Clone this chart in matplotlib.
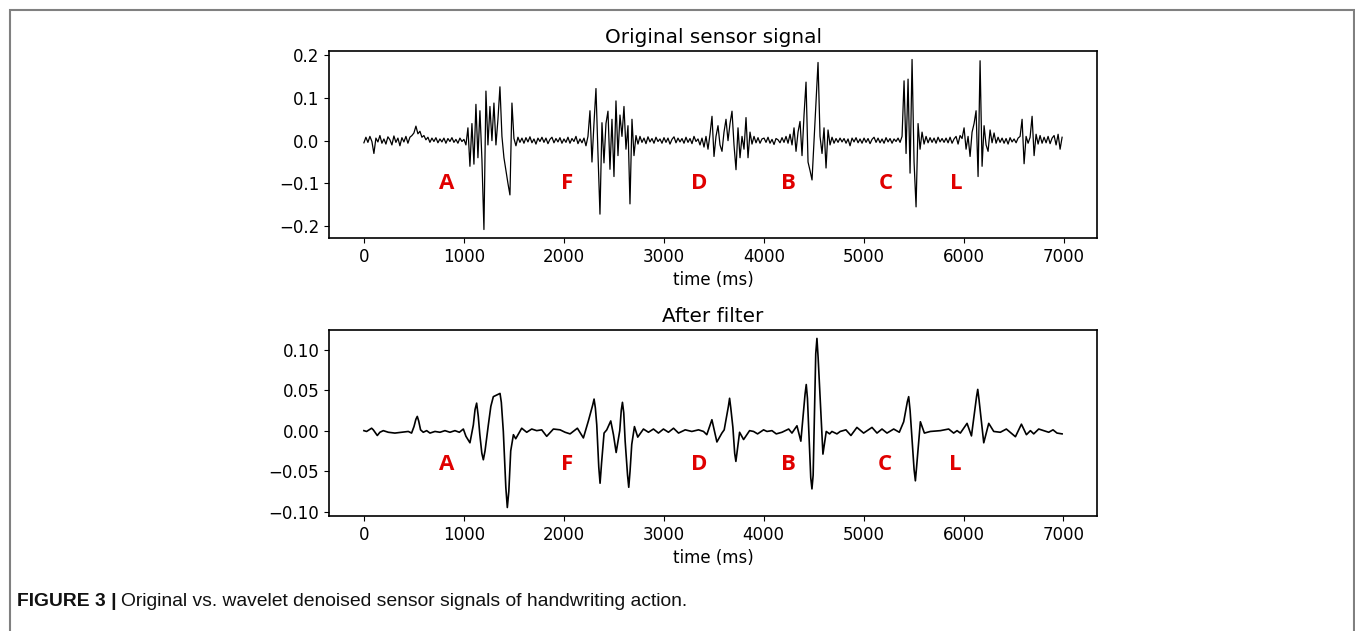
import numpy as np
import matplotlib
matplotlib.use("Agg")
import matplotlib.pyplot as plt
from matplotlib.patches import Rectangle

# raw sensor samples, one every 20 ms starting at 0 ms
raw_step = 20
raw_vals = [
    -0.005, 0.008, -0.004, 0.010, -0.002, -0.030, 0.006, -0.003, 0.012, -0.006,
    0.004, -0.008, 0.009, 0.002, -0.010, 0.011, -0.004, 0.006, -0.012, 0.007,
    -0.003, 0.010, -0.006, 0.008, 0.012, 0.018, 0.034, 0.016, 0.022, 0.008,
    0.012, 0.002, 0.008, -0.004, 0.006, -0.002, 0.007, -0.005, 0.004, -0.003,
    0.006, -0.006, 0.005, -0.002, 0.007, -0.004, 0.003, -0.006, 0.006, -0.002,
    0.003, -0.010, 0.030, -0.060, 0.040, -0.055, 0.085, -0.040, 0.070, -0.045,
    -0.208, 0.116, -0.010, 0.080, 0.000, 0.088, -0.010, 0.050, 0.126, 0.010,
    -0.040, -0.070, -0.100, -0.127, 0.088, 0.005, -0.012, 0.008, -0.004, 0.006,
    -0.006, 0.007, -0.003, 0.009, -0.005, 0.004, -0.008, 0.006, -0.002, 0.008,
    -0.004, 0.006, -0.007, 0.003, 0.008, -0.005, 0.005, -0.003, 0.007, -0.006,
    0.004, -0.004, 0.008, -0.006, 0.005, -0.002, 0.010, -0.007, 0.004, -0.005,
    0.006, -0.012, 0.010, 0.070, -0.050, 0.040, 0.122, -0.030, -0.172, 0.042,
    -0.052, 0.040, 0.069, -0.067, 0.050, -0.084, 0.093, -0.035, 0.060, 0.010,
    0.080, -0.020, 0.035, -0.148, 0.050, -0.035, 0.012, -0.008, 0.010, -0.004,
    0.006, -0.007, 0.009, -0.003, 0.005, -0.006, 0.008, -0.002, 0.004, -0.006,
    0.007, -0.004, 0.006, -0.008, 0.003, 0.009, -0.005, 0.006, -0.003, 0.005,
    -0.006, 0.008, -0.004, 0.005, -0.007, 0.010, -0.002, 0.004, -0.010, 0.006,
    -0.015, 0.010, -0.020, 0.015, 0.057, -0.037, 0.010, 0.035, -0.010, -0.025,
    0.020, 0.050, 0.000, 0.040, 0.069, -0.010, -0.068, 0.030, -0.040, 0.010,
    -0.020, 0.054, -0.040, 0.020, -0.008, 0.010, -0.005, 0.007, -0.006, 0.004,
    0.006, -0.004, 0.008, -0.006, 0.003, -0.009, 0.005, 0.002, -0.005, 0.007,
    -0.004, 0.010, -0.006, 0.015, -0.010, 0.030, -0.025, 0.020, 0.045, -0.035,
    0.060, 0.137, -0.050, -0.070, -0.092, 0.000, 0.090, 0.183, 0.010, -0.030,
    0.030, -0.064, 0.025, -0.010, 0.008, -0.006, 0.005, -0.004, 0.006, -0.003,
    0.005, -0.006, 0.004, -0.012, 0.006, -0.003, 0.007, -0.005, 0.004, -0.006,
    0.006, -0.004, 0.005, -0.007, 0.003, 0.008, -0.004, 0.006, -0.005, 0.004,
    -0.006, 0.007, -0.003, 0.005, -0.006, 0.004, -0.002, 0.006, -0.004, 0.010,
    0.140, -0.030, 0.144, -0.076, 0.190, -0.050, -0.155, 0.040, -0.020, 0.020,
    -0.008, 0.010, -0.005, 0.007, -0.004, 0.006, -0.006, 0.008, -0.003, 0.005,
    -0.004, 0.006, -0.005, 0.008, -0.006, 0.004, 0.010, -0.008, 0.012, 0.005,
    0.030, -0.020, 0.010, -0.037, 0.020, 0.040, 0.070, -0.084, 0.187, -0.060,
    0.035, -0.010, -0.025, 0.025, -0.005, 0.018, -0.006, 0.008, -0.004, 0.006,
    -0.006, 0.005, -0.008, 0.007, -0.003, 0.004, -0.005, 0.006, 0.010, 0.050,
    -0.054, 0.010, -0.006, 0.008, 0.057, -0.035, 0.015, -0.008, 0.012, -0.006,
    0.008, -0.005, 0.010, -0.007, 0.006, 0.012, -0.010, 0.015, -0.020, 0.008,
]
raw_t = np.arange(len(raw_vals)) * raw_step

# wavelet denoised signal
filt_t = [0, 27, 77, 94, 134, 160, 194, 244, 310, 377, 444, 477, 501, 520, 534,
          548, 567, 594, 628, 661, 711, 761, 811, 861, 911, 955, 995, 1021, 1061,
          1095, 1112, 1128, 1144, 1160, 1180, 1195, 1212, 1245, 1270, 1295, 1329,
          1362, 1375, 1395, 1420, 1435, 1450, 1469, 1496, 1519, 1579, 1629, 1679,
          1729, 1779, 1829, 1896, 1963, 2013, 2063, 2136, 2196, 2246, 2290, 2303,
          2316, 2330, 2350, 2363, 2378, 2403, 2430, 2470, 2497, 2524, 2560, 2575,
          2587, 2600, 2614, 2638, 2650, 2663, 2680, 2707, 2740, 2797, 2847, 2897,
          2947, 2997, 3047, 3098, 3148, 3215, 3281, 3348, 3398, 3431, 3482, 3532,
          3582, 3605, 3647, 3659, 3671, 3692, 3710, 3722, 3735, 3759, 3799, 3859,
          3899, 3939, 3999, 4033, 4083, 4126, 4183, 4250, 4283, 4333, 4372, 4414,
          4426, 4438, 4471, 4483, 4495, 4521, 4533, 4545, 4593, 4626, 4660, 4683,
          4733, 4766, 4823, 4873, 4933, 5000, 5084, 5134, 5184, 5234, 5301, 5357,
          5401, 5438, 5451, 5465, 5505, 5518, 5530, 5568, 5608, 5668, 5768, 5851,
          5901, 5935, 5968, 6035, 6079, 6130, 6142, 6155, 6202, 6252, 6302, 6368,
          6428, 6519, 6579, 6629, 6669, 6702, 6752, 6802, 6852, 6895, 6935, 6986]
filt_v = [0.000, -0.001, 0.003, 0.001, -0.006, -0.002, 0.000, -0.002, -0.003,
          -0.002, -0.001, -0.003, 0.005, 0.014, 0.0176, 0.012, 0.001, -0.002,
          0.000, -0.003, -0.001, -0.002, 0.000, -0.002, 0.000, -0.002, 0.002,
          -0.007, -0.015, 0.007, 0.026, 0.034, 0.018, -0.005, -0.028, -0.036,
          -0.025, 0.007, 0.030, 0.042, 0.044, 0.046, 0.035, -0.001, -0.070,
          -0.095, -0.075, -0.025, -0.005, -0.010, 0.003, -0.002, 0.002, 0.000,
          0.001, -0.007, 0.002, 0.001, -0.002, -0.004, 0.003, -0.009, 0.012,
          0.032, 0.039, 0.028, 0.007, -0.045, -0.065, -0.040, -0.003, 0.001,
          0.012, -0.005, -0.027, 0.000, 0.025, 0.035, 0.022, -0.013, -0.055,
          -0.070, -0.050, -0.017, 0.005, -0.008, 0.002, -0.002, 0.002, -0.003,
          0.002, -0.002, 0.003, -0.003, 0.001, -0.001, 0.001, -0.001, -0.005,
          0.0135, -0.014, -0.003, 0.001, 0.030, 0.040, 0.028, 0.004, -0.028,
          -0.038, -0.025, -0.002, -0.011, 0.000, -0.001, -0.004, 0.001, -0.001,
          0.000, -0.004, -0.002, 0.002, -0.003, 0.006, -0.013, 0.045, 0.057,
          0.040, -0.058, -0.072, -0.055, 0.095, 0.114, 0.090, -0.029, -0.001,
          -0.004, -0.001, -0.004, -0.001, 0.001, -0.006, 0.004, -0.003, 0.004,
          -0.003, 0.002, -0.003, 0.002, -0.002, 0.011, 0.036, 0.042, 0.025,
          -0.048, -0.062, -0.045, 0.011, -0.003, -0.001, 0.000, 0.002, -0.003,
          0.000, -0.003, 0.009, -0.0065, 0.042, 0.051, 0.038, -0.015, 0.009,
          -0.001, -0.002, 0.002, -0.0075, 0.008, -0.005, 0.000, -0.004, 0.002,
          0.000, -0.002, 0.001, -0.003, -0.004]

letters = ["A", "F", "D", "B", "C", "L"]
letter_t = [831, 2033, 3355, 4246, 5217, 5918]
letter_y_raw = -0.101
letter_y_filt = -0.042

plt.rcParams['font.size'] = 12
plt.rcParams['axes.linewidth'] = 1.2

fig = plt.figure(figsize=(13.55, 6.31), dpi=100)
ax1 = fig.add_axes([0.2428, 0.6228, 0.5668, 0.2964])
ax2 = fig.add_axes([0.2428, 0.1823, 0.5668, 0.2948])

ax1.plot(raw_t, raw_vals, color='black', lw=0.9)
ax1.set_title('Original sensor signal', fontsize=14.4)
ax1.set_xlabel('time (ms)')
ax1.set_yticks([-0.2, -0.1, 0.0, 0.1, 0.2])

ax2.plot(filt_t, filt_v, color='black', lw=1.2, solid_joinstyle='round')
ax2.set_title('After filter', fontsize=14.4)
ax2.set_xlabel('time (ms)')
ax2.set_yticks([-0.10, -0.05, 0.00, 0.05, 0.10])

for ax, ly in [(ax1, letter_y_raw), (ax2, letter_y_filt)]:
    ax.set_xticks([0, 1000, 2000, 3000, 4000, 5000, 6000, 7000])
    for s, lt in zip(letters, letter_t):
        ax.text(lt, ly, s, color='#e00000', fontsize=16, fontweight='bold',
                family='Open Sans', ha='center', va='center')

# outer frame of the figure panel
fig.add_artist(Rectangle((10 / 1355, -0.05), 1344 / 1355, 1.05 - 10 / 631,
                         transform=fig.transFigure, fill=False,
                         edgecolor='#808080', lw=1.5))

# caption: bold part then regular part
cap1 = fig.text(17 / 1355, 0.046, 'FIGURE 3 |', fontsize=13.9, fontweight='bold',
                family='Liberation Sans', va='center', ha='left', color='#111111')
r = fig.canvas.get_renderer()
bb = cap1.get_window_extent(renderer=r)
fig.text((bb.x1 + 4) / 1355, 0.046,
         'Original vs. wavelet denoised sensor signals of handwriting action.',
         fontsize=13.9, family='Liberation Sans', va='center', ha='left',
         color='#111111')

fig.savefig('out.png', dpi=100)
